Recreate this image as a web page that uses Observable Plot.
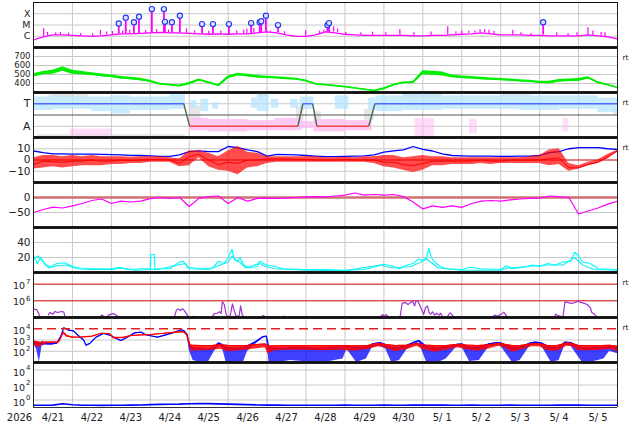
<!DOCTYPE html>
<html><head><meta charset="utf-8">
<script src="https://cdn.jsdelivr.net/npm/d3@7"></script>
<script src="https://cdn.jsdelivr.net/npm/@observablehq/plot@0.6"></script>
<style>
body{margin:0;background:#fff;}
#chart{position:relative;width:634px;height:424px;overflow:hidden;background:#fff;}
#chart svg{position:absolute;left:0;overflow:visible;}
</style></head><body><div id="chart"></div>
<script>
// ---------- time helpers (days since 2026-04-21 00:00) ----------
const DAY = 864e5, T0 = Date.UTC(2026, 3, 21);
const T = t => new Date(T0 + t * DAY);
const STEP = 0.25; // 6-hour samples

// ---------- tick labels ----------
const dayLabels = ["4/21","4/22","4/23","4/24","4/25","4/26","4/27","4/28","4/29","4/30","5/ 1","5/ 2","5/ 3","5/ 4","5/ 5"];
const yearLabel = "2026";

// ---------- panel 1: X-ray flux (W/m2), 6-hourly background ----------
const xrayBg = [4.8e-7,8.9e-7,1.35e-6,1.35e-6,1.2e-6,1.1e-6,9.9e-7,1.1e-6,1.35e-6,1.65e-6,
  1.65e-6,1.8e-6,2.0e-6,2.2e-6,2.0e-6,2.0e-6,1.8e-6,1.65e-6,1.5e-6,1.65e-6,
  1.5e-6,1.65e-6,1.65e-6,2.0e-6,2.5e-6,2.0e-6,1.35e-6,9.9e-7,9.9e-7,1.35e-6,
  2.5e-6,2.0e-6,1.5e-6,1.35e-6,1.2e-6,1.2e-6,1.2e-6,1.2e-6,1.2e-6,1.1e-6,
  1.1e-6,1.2e-6,1.2e-6,1.35e-6,1.5e-6,1.65e-6,2.0e-6,1.65e-6,1.35e-6,1.35e-6,
  1.35e-6,1.2e-6,1.2e-6,1.1e-6,1.1e-6,1.1e-6,1.1e-6,1.35e-6,1.1e-6,8.9e-7,5.9e-7];
// small spikes [day, base, peak]
const xrayMinor = [[0.26,8e-7,4.6e-6],[0.36,1.1e-6,2.2e-6],[0.57,1.3e-6,2.0e-6],[0.69,1.3e-6,2.2e-6],[0.90,1.2e-6,1.9e-6],
  [1.21,1.1e-6,1.8e-6],[1.52,1.0e-6,1.7e-6],[1.72,1.1e-6,3.4e-6],[1.88,1.3e-6,2.4e-6],[2.03,1.4e-6,2.6e-6],
  [2.29,1.6e-6,3e-6],[2.47,1.6e-6,3.5e-6],[2.88,1.8e-6,3.2e-6],[3.16,2e-6,4e-6],[3.47,2e-6,3.5e-6],
  [3.93,1.8e-6,4.6e-6],[4.14,1.7e-6,3e-6],[4.50,1.5e-6,2.8e-6],[4.81,1.6e-6,3e-6],[5.22,1.6e-6,3e-6],
  [5.40,1.7e-6,3.5e-6],[5.48,1.7e-6,4.5e-6],[5.66,1.9e-6,5e-6],[6.09,2.4e-6,3e-6],[6.45,1.5e-6,2.5e-6],
  [6.99,1.0e-6,3.1e-6],[7.35,1.6e-6,3e-6],[7.46,2.2e-6,3.5e-6],[7.71,2.4e-6,6.9e-6],[7.81,2.2e-6,4.5e-6],
  [8.02,1.5e-6,2.2e-6],[8.41,1.2e-6,2e-6],[8.71,1.2e-6,2.3e-6],[9.05,1.2e-6,2e-6],[9.41,1.2e-6,3.7e-6],
  [9.77,1.1e-6,2e-6],[10.21,1.2e-6,2.4e-6],[10.64,1.3e-6,6.9e-6],[10.85,1.5e-6,2.5e-6],[11.0,1.6e-6,3e-6],
  [11.18,1.8e-6,2.8e-6],[11.34,1.9e-6,3e-6],[11.47,2e-6,3.8e-6],[11.59,1.9e-6,4e-6],[11.70,1.7e-6,3.5e-6],
  [11.83,1.5e-6,2.6e-6],[12.31,1.3e-6,3.4e-6],[12.52,1.3e-6,2e-6],[12.78,1.2e-6,1.8e-6],[13.44,1.1e-6,2e-6],
  [13.73,1.1e-6,1.8e-6],[13.96,1.1e-6,2e-6],[14.24,1.2e-6,5.6e-6],[14.37,1.1e-6,3e-6],[14.58,1.0e-6,2.2e-6],
  [14.68,9e-7,2e-6]];
// flares with markers [day, base, peak]
const flares = [[2.19,1.5e-6,1.36e-5],[2.37,1.65e-6,4.4e-5],[2.58,1.7e-6,1.8e-5],[2.71,1.8e-6,5.4e-5],
  [3.04,1.9e-6,2.6e-4],[3.35,2.1e-6,2.6e-4],[3.375,2.1e-6,1.9e-5],[3.555,2.0e-6,1.8e-5],[3.76,2.0e-6,6.6e-5],
  [4.33,1.6e-6,1.2e-5],[4.61,1.5e-6,1.2e-5],[5.02,1.5e-6,1.2e-5],[5.59,1.7e-6,1.48e-5],[5.81,2.0e-6,1.8e-5],
  [5.85,2.0e-6,2.2e-5],[5.97,2.3e-6,6.6e-5],[6.28,2.0e-6,9.8e-6],[7.55,2.2e-6,9.8e-6],[7.59,2.2e-6,1.48e-5],
  [13.09,1.3e-6,1.8e-5]];

// ---------- panel 2: solar wind speed (km/s), 6-hourly ----------
const swSpeed = [490,515,525,560,525,515,505,490,480,465,455,445,425,395,385,375,400,440,410,380,
  470,500,490,475,470,465,455,450,430,395,385,375,365,350,335,320,345,385,410,415,
  520,515,505,480,470,465,455,450,445,440,430,425,415,410,430,435,440,465,410,385,355];
const swNoise = [18,18,22,25,22,18,15,15,14,14,14,14,11,9,8,8,11,11,9,8,
  14,15,14,14,11,11,11,9,9,6,5,5,4,4,4,6,8,8,8,8,
  22,22,22,15,14,14,14,11,11,11,11,11,11,14,14,14,15,11,9,8,6];

// ---------- panel 3: sector (A=1, T=3) ----------
const sectorPts = [[0,3],[3.86,3],[4.01,1],[6.79,1],[6.92,3],[7.17,3],[7.28,1],[8.61,1],[8.77,3],[15,3]];
const blueDots = [[0,0.5,2.4,3.6],[0.5,1.0,2.5,3.7],[1.0,1.5,2.5,3.6],[1.5,2.0,2.3,3.6],[2.0,2.5,2.1,3.7],
  [2.5,3.0,2.4,3.6],[3.0,3.5,2.4,3.6],[3.5,3.9,2.5,3.8],[4.05,4.2,2.6,3.3],[4.3,4.5,2.3,3.4],[4.6,4.75,2.5,3.1],
  [5.6,5.75,2.6,3.5],[5.75,6.05,2.3,3.8],[6.1,6.3,2.6,3.4],[6.6,6.8,2.6,3.4],[6.85,7.2,2.5,3.6],[7.75,8.1,2.5,3.7],
  [8.6,8.8,2.4,3.5],[8.8,9.5,2.3,3.7],[9.5,10.5,2.4,3.8],[10.5,11.5,2.5,3.7],[11.5,12.5,2.5,3.7],
  [12.5,13.5,2.4,3.7],[13.5,14.5,2.5,3.7],[14.5,15,2.2,3.5]];
const pinkDense = [[4.0,4.5,0.6,1.7],[4.5,5.5,0.5,1.6],[5.5,6.2,0.6,1.5],[6.2,6.9,0.6,1.7],[6.9,7.2,0.8,1.4],
  [7.2,8.0,0.5,1.6],[8.0,8.7,0.6,1.5]];
const pinkSparse = [[0.95,2.0,0.15,0.75],[9.8,10.3,0.1,1.7],[11.2,11.4,0.3,1.6],[13.6,13.75,0.5,1.7]];
const grayDots = [[0.4,1.4,3.55,3.85],[4.0,4.3,1.5,2.8],[5.75,6.0,3.6,3.9],[6.75,6.95,1.2,2.7],[7.2,7.4,1.6,2.3],
  [8.5,8.75,1.5,2.5],[9.5,10.5,3.5,3.8],[12.0,12.8,3.6,3.85],[14.9,15,2.0,2.6],[0.1,3.9,0.05,0.25]];

// ---------- panel 4: IMF Bt / Bz (nT), 6-hourly ----------
const bt = [8,6.5,5.5,5.5,5.2,5.2,5.2,5,4.8,4.5, 4.2,4,3.7,3.3,3.2,4.5,7.5,8.2,7.5,7.5,
  12,11,9,7.5,3.5,5,4.8,4.5,4,3.5, 3,3,3.2,3.5,3.7,4.5,7,8.2,9,12,
  9.5,8,5.5,4,3.7,3.5,3.5,3.5,3.3,3.2, 3.5,3.5,4,6.5,7.5,10,11,11,11,10, 9.5];
const bzMid = [-4,-1,-1.5,-2,-1,-1,0,-1,-1,0, -0.5,0,0.5,0.5,0,-3,3,5,0,-4,
  -2,-3,0,0,1,1,1,0.5,0.5,0, 0,0,0.5,0,0,0,-2,-2,-4,-5,
  -3,-1,-1,-1,-1,-1,0,-1,-1,0, 0,0,0,1,2,-7,-7,-4,-2,3, 8];
const bzLo = [-8,-7,-6,-7,-6,-5,-5,-5,-4,-4, -3,-3,-2,-2,-2,-6,-5,2,-6,-9,
  -10,-13,-7,-6,-3,-2,-2,-2,-2,-2, -2,-2,-2,-2,-2,-3,-6,-7,-9,-11,
  -9,-5,-5,-4,-4,-4,-3,-4,-3,-3, -3,-3,-3,-5,-4,-10,-8,-5,-3,1, 7];
const bzHi = [2,4,4,3,4,3,4,3,3,3, 2.5,3,3,3,2,1,8,8,6,3,
  8,12,7,6,3,3,3,3,3,3, 2,2,2.5,2,3,3,4,4,2,3,
  4,3,3,2,2,2,2,2,2,2, 2,3,4,9,10,-3,-5,-2,0,5, 9];

// ---------- panel 5: Dst (nT), 6-hourly ----------
const dst = [-50,-40,-32,-35,-28,-20,-10,-5,-20,-12, -15,-12,-4,0,-3,0,-30,-3,3,5,
  -20,0,-12,-3,-2,-3,-2,0,2,3, 2,5,8,15,8,10,8,10,3,-15,
  -38,-28,-33,-28,-33,-20,-12,-10,-12,-8, -5,-3,-2,5,3,0,-55,-45,-35,-22, -12];

// ---------- panel 6: two cyan traces [day, value] ----------
const cyanA = [[0,22],[0.1,12],[0.18,20],[0.3,10],[0.45,8],[0.6,12],[0.8,13],[1.0,8],[1.2,6],[1.5,5],[2.0,5],[2.2,7],
  [2.4,4],[2.8,5],[3.0,5],[3.01,24],[3.10,24],[3.12,5],[3.5,5],[3.75,14],[3.85,15],[3.95,7],[4.3,5],[4.6,6],
  [4.75,15],[4.9,12],[5.0,20],[5.1,31],[5.15,18],[5.25,15],[5.3,20],[5.4,10],[5.55,6],[5.75,8],[5.8,15],[5.9,12],
  [6.0,10],[6.2,8],[6.4,5],[7,4],[7.5,4],[8.0,3],[8.5,4],[8.8,8],[9.0,11],[9.2,9],[9.4,5],[9.6,10],[9.75,12],
  [9.9,18],[10.0,16],[10.1,20],[10.15,32],[10.22,20],[10.3,14],[10.45,8],[10.6,5],[11.0,4],[11.2,7],[11.5,5],
  [12.0,4],[12.15,9],[12.3,5],[12.6,7],[12.8,10],[13.0,8],[13.2,12],[13.4,10],[13.6,14],[13.8,15],[13.9,27],
  [14.0,22],[14.1,14],[14.3,12],[14.5,5],[15,4]];
const cyanB = [[0,18],[0.12,22],[0.25,14],[0.4,6],[0.6,9],[0.85,10],[1.1,5],[1.5,4],[2.0,4],[2.3,6],[2.6,3],[3.0,4],
  [3.2,4],[3.7,10],[3.9,12],[4.0,5],[4.5,4],[4.8,10],[5.0,14],[5.1,22],[5.2,16],[5.3,14],[5.45,6],[5.8,12],
  [5.95,8],[6.2,5],[7,3],[8,2.5],[8.9,10],[9.2,6],[9.7,8],[9.95,14],[10.1,18],[10.2,14],[10.4,6],[11,3],[12,3],
  [12.2,6],[12.7,8],[13.2,10],[13.6,10],[13.9,20],[14.1,10],[14.4,4],[15,3]];

// ---------- panel 7: purple fluence [day, value], null = gap ----------
const fluence = [[0,3.2e5],[0.08,3e5],[0.12,2e5],[0.16,1.2e5],[0.2,null],
  [0.38,1.4e5],[0.42,2.0e5],[0.5,1.6e5],[0.55,2.3e5],[0.62,2.0e5],[0.72,2.3e5],[0.78,2.1e5],[0.8,1.3e5],[0.85,null],
  [1.72,1.2e5],[1.76,1.4e5],[1.8,1.2e5],[1.85,null],[1.9,1.2e5],[1.95,1.5e5],[2.05,1.7e5],[2.12,1.4e5],[2.18,1.1e5],[2.2,null],
  [3.62,1.1e5],[3.67,2.8e5],[3.72,3.2e5],[3.78,2.6e5],[3.83,3.4e5],[3.88,2.5e5],[3.96,1.3e5],[4.0,null],
  [4.1,1.1e5],[4.12,1.2e5],[4.15,null],
  [4.6,1.2e5],[4.65,1.7e5],[4.72,1.8e5],[4.78,2.2e5],[4.82,1.8e5],[4.85,9.1e5],[4.9,6e5],[4.95,1.5e5],[5.0,1.1e5],
  [5.05,1.2e5],[5.11,6.5e5],[5.15,3e5],[5.2,1.2e5],[5.28,1.2e5],[5.32,5e5],[5.36,1.5e5],[5.4,1.1e5],[5.42,null],
  [5.85,1.1e5],[5.9,1.3e5],[5.95,1.1e5],[6.0,null],[6.4,1.1e5],[6.45,1.2e5],[6.5,null],
  [8.92,1.2e5],[8.97,1.5e5],[9.0,1.2e5],[9.06,1.5e5],[9.1,1.2e5],[9.15,null],
  [9.42,1.2e5],[9.47,7e5],[9.55,8e5],[9.62,6e5],[9.7,8.5e5],[9.74,9.5e5],[9.79,5e5],[9.82,9.5e5],[9.86,1e6],
  [9.9,7e5],[9.97,3e5],[10.02,1.5e5],[10.07,4e5],[10.12,5e5],[10.16,2e5],[10.2,1.6e5],[10.25,2.2e5],[10.3,1.4e5],
  [10.35,1.8e5],[10.42,1.4e5],[10.46,1.8e5],[10.5,1.2e5],[10.55,null],
  [10.64,1.2e5],[10.7,1.9e5],[10.74,1.6e5],[10.78,1.1e5],[10.8,null],
  [11.8,1.1e5],[11.85,1.4e5],[11.9,1.2e5],[12.02,1.6e5],[12.08,2.1e5],[12.14,1.3e5],[12.18,1.1e5],[12.2,null],
  [12.52,1.1e5],[12.6,1.15e5],[12.65,null],
  [13.39,1.2e5],[13.42,1.6e5],[13.47,1.3e5],[13.6,1.1e5],[13.65,8.7e5],[13.72,8e5],[13.8,7e5],[13.88,7.5e5],
  [13.99,9.5e5],[14.05,8e5],[14.15,7e5],[14.22,6e5],[14.3,4e5],[14.34,2e5],[14.4,1.6e5],[14.47,1.1e5],[14.5,null]];

// ---------- panel 8: electron flux bands [day, low, high] ----------
const elecBlue = [[0.0,500,800],[0.08,150,600],[0.15,10,400],[0.22,300,700],[0.3,350,500],[0.45,350,450],[0.6,420,520],
  [0.7,1500,2000],[0.78,11000,12500],[0.9,6500,7500],[1.03,5500,6500],[1.15,2000,2500],[1.29,800,1000],[1.35,280,350],
  [1.45,400,500],[1.6,1500,1700],[1.8,3400,3800],[2.0,2000,2400],[2.1,1300,1500],[2.25,700,900],[2.4,1500,1700],
  [2.6,3800,4300],[2.76,4500,5000],[2.9,2500,2800],[3.19,1500,1800],[3.4,2500,2900],[3.6,4000,4500],[3.78,7000,7800],
  [3.86,6000,7000],[3.95,2000,3000],
  [4.0,120,300],[4.1,15,200],[4.3,10,180],[4.5,12,150],[4.65,100,250],[4.75,300,550],[4.85,200,400],[4.95,10,200],
  [5.2,10,180],[5.4,12,200],[5.5,100,300],[5.7,400,700],[5.9,1500,2000],[5.98,1800,2200],[6.05,10,200],[6.3,10,180],
  [6.6,15,200],[6.9,12,220],[7.2,10,180],[7.6,12,200],[7.95,20,250],[8.05,150,300],[8.3,10,200],[8.55,20,220],
  [8.7,200,450],[8.9,300,600],[9.05,150,400],[9.2,10,200],[9.4,15,200],[9.6,150,350],[9.8,400,700],[9.9,600,900],
  [10.1,10,250],[10.4,10,200],[10.6,20,250],[10.85,200,400],[11.0,250,450],[11.2,12,220],[11.45,15,220],
  [11.7,250,450],[11.9,350,600],[12.0,300,550],[12.3,10,200],[12.5,15,220],[12.75,300,550],[12.9,400,650],
  [13.05,300,550],[13.3,10,200],[13.5,15,220],[13.65,350,650],[13.8,300,600],[14.1,10,200],[14.4,12,200],
  [14.65,20,220],[14.8,100,250],[15,60,200]];
const elecRed = [[0,400,800],[0.1,200,700],[0.2,300,600],[0.3,450,650],[0.5,500,650],[0.65,550,700],[0.77,3500,5000],
  [0.85,1800,2500],[1.0,1400,1800],[1.2,1500,1800],[1.5,1800,2200],[1.75,3500,4000],[1.95,3300,3800],[2.05,1200,1700],
  [2.3,1300,1700],[2.5,2000,2500],[2.8,2400,2900],[3.0,2500,3000],[3.3,3200,3800],[3.6,4000,4800],[3.85,4500,5500],
  [3.93,2500,3500],[4.02,200,400],
  [4.05,100,350],[4.3,110,320],[4.6,120,330],[4.8,150,380],[5.0,90,330],[5.3,110,320],[5.5,130,330],[5.8,180,420],
  [5.95,200,450],[6.02,60,300],[6.2,110,300],[6.5,120,320],[7.0,120,320],[7.5,110,320],[7.9,120,320],[8.2,100,300],
  [8.6,140,330],[8.85,250,500],[9.0,200,420],[9.3,90,320],[9.6,140,350],[9.85,280,500],[10.0,140,360],[10.3,80,320],
  [10.6,120,320],[10.9,200,420],[11.1,140,360],[11.4,100,320],[11.7,160,370],[11.95,280,500],[12.1,200,420],
  [12.3,80,320],[12.5,120,320],[12.8,250,460],[13.0,250,460],[13.2,110,320],[13.45,100,320],[13.7,280,550],
  [13.85,250,460],[14.0,110,320],[14.3,110,320],[14.6,120,320],[14.8,150,340],[15.0,90,280]];

// ---------- panel 9: proton flux, 6-hourly ----------
const proton = [0.2,0.2,0.21,0.32,0.23,0.2,0.2,0.19,0.2,0.2, 0.21,0.22,0.24,0.26,0.27,0.28,0.32,0.34,0.33,0.3,
  0.28,0.26,0.24,0.22,0.21,0.21,0.2,0.2,0.2,0.2, 0.2,0.2,0.21,0.2,0.2,0.2,0.21,0.2,0.2,0.21,
  0.21,0.22,0.21,0.2,0.2,0.21,0.2,0.2,0.2,0.21, 0.2,0.2,0.2,0.2,0.21,0.22,0.21,0.2,0.2,0.2, 0.2];

// ================= drawing =================
const W = 634, ML = 33, MR = 17, PH = 45, PAD = 4;
const INK = "#222", GRID = "#c8c8c8";
const MAG = "#ff00ff", GREEN = "#00ee00", BLUE = "#0000ff", RED = "#ff0000", CYAN = "#00ffff", PURPLE = "#a035d0";
const chart = document.getElementById("chart");
const dayLines = d3.range(1, 15).map(T);
const at = arr => arr.map((v, i) => ({t: T(i * STEP), v}));
const FONT = "DejaVu Sans";

function addPanel(i, y, marks, extra = 0) {
  const svg = Plot.plot({
    width: W, height: PH + 2 * PAD + extra,
    marginLeft: ML, marginRight: MR, marginTop: PAD, marginBottom: PAD + extra,
    x: {type: "utc", domain: [T(0), T(15)], axis: null},
    y: {...y, axis: null},
    marks: [
      Plot.ruleX(dayLines, {stroke: GRID, strokeWidth: 1}),
      ...marks,
      Plot.ruleX([T(0), T(15)], {stroke: INK, strokeWidth: 1}),
      Plot.ruleY([y.domain[1]], {stroke: "#111", strokeWidth: i === 0 ? 1 : 2.6}),
      Plot.ruleY([y.domain[0]], {stroke: i === 8 ? "#333" : "#111", strokeWidth: i === 8 ? 1 : 2.6})
    ]
  });
  svg.style.position = "absolute";
  svg.style.top = (1.7 + 45 * i - PAD) + "px";
  svg.style.left = "0px";
  svg.style.background = "transparent";
  svg.style.overflow = "visible";
  svg.style.fontFamily = FONT;
  chart.appendChild(svg);
}
const lab = (vals, texts, fs = 10.5) => Plot.text(vals, {x: () => T(0), y: d => d, text: (d, i) => texts[i],
  dx: -3, textAnchor: "end", lineAnchor: "middle", fontSize: fs, fill: INK, fontFamily: FONT});
const logLab = (vals, dyB, dyE) => [
  Plot.text(vals, {x: () => T(0), y: d => d, text: () => "10", dx: -8.5, dy: dyB, textAnchor: "end",
    lineAnchor: "middle", fontSize: 9.5, fill: INK, fontFamily: FONT}),
  Plot.text(vals, {x: () => T(0), y: d => d, text: d => String(Math.round(Math.log10(d))), dx: -3, dy: dyE,
    textAnchor: "end", lineAnchor: "middle", fontSize: 7, fill: INK, fontFamily: FONT})
];
const rt = () => Plot.text(["rt"], {x: () => T(15), frameAnchor: "top", dx: 5, dy: 10, textAnchor: "start",
  lineAnchor: "middle", fontSize: 7.5, fill: INK, fontFamily: FONT});
const rectOpts = (fill, op) => ({x1: d => T(d[0]), x2: d => T(d[1]), y1: d => d[2], y2: d => d[3], fill, fillOpacity: op, clip: true});

// 1. X-ray
addPanel(0, {type: "log", domain: [1e-7, 1e-3]}, [
  Plot.ruleY([1e-4, 1e-5, 1e-6], {stroke: GRID}),
  Plot.line(at(xrayBg), {x: "t", y: "v", stroke: MAG, strokeWidth: 1.3, clip: true}),
  Plot.ruleX(xrayMinor, {x: d => T(d[0]), y1: d => d[1], y2: d => d[2], stroke: MAG, strokeWidth: 1.2}),
  Plot.ruleX(flares, {x: d => T(d[0]), y1: d => d[1], y2: d => d[2], stroke: MAG, strokeWidth: 1.8}),
  Plot.dot(flares, {x: d => T(d[0]), y: d => d[2], r: 2.6, fill: "#dfe4ff", stroke: "#2b3cf0", strokeWidth: 1.2}),
  lab([1e-4, 1e-5, 1e-6], ["X", "M", "C"], 9.5)
]);

// 2. Solar wind speed
const sw = swSpeed.map((v, i) => ({t: T(i * STEP), v, n: swNoise[i]}));
addPanel(1, {type: "linear", domain: [300, 800]}, [
  Plot.ruleY([400, 500, 600, 700], {stroke: GRID}),
  Plot.areaY(sw, {x: "t", y1: d => d.v - d.n, y2: d => d.v + d.n, fill: GREEN, clip: true}),
  Plot.line(sw, {x: "t", y: "v", stroke: GREEN, strokeWidth: 1.5, clip: true}),
  lab([700, 600, 500, 400], ["700", "600", "500", "400"], 8.5),
  rt()
]);

// 3. Sector
const segs = d3.pairs(sectorPts);
const segOpts = s => ({x1: d => T(d[0][0]), y1: d => d[0][1], x2: d => T(d[1][0]), y2: d => d[1][1], stroke: s, strokeWidth: 1.4});
addPanel(2, {type: "linear", domain: [0, 4]}, [
  Plot.ruleY([1, 3], {stroke: GRID}),
  Plot.rect(grayDots, rectOpts("#d4d4d4", 0.55)),
  Plot.rect(blueDots, rectOpts("#b6e4ff", 0.75)),
  Plot.rect(pinkDense, rectOpts("#ffbcf2", 0.8)),
  Plot.rect(pinkSparse, rectOpts("#ffbcf2", 0.5)),
  Plot.ruleY([2], {stroke: "#555", strokeWidth: 1}),
  Plot.link(segs.filter(([a, b]) => a[1] !== b[1]), segOpts("#4d6b4d")),
  Plot.link(segs.filter(([a, b]) => a[1] === 3 && b[1] === 3), segOpts("#4f6bff")),
  Plot.link(segs.filter(([a, b]) => a[1] === 1 && b[1] === 1), segOpts("#e84848")),
  lab([3, 1], ["T", "A"], 11),
  rt()
]);

// 4. Bt / Bz
const bzData = bzMid.map((v, i) => ({t: T(i * STEP), v, lo: bzLo[i], hi: bzHi[i]}));
addPanel(3, {type: "linear", domain: [-20, 20]}, [
  Plot.ruleY([-10, 10], {stroke: GRID}),
  Plot.ruleY([0], {stroke: "#c00000", strokeWidth: 1}),
  Plot.line(at(bt), {x: "t", y: "v", stroke: BLUE, strokeWidth: 1.3, clip: true}),
  Plot.areaY(bzData, {x: "t", y1: "lo", y2: "hi", fill: RED, fillOpacity: 0.7, clip: true}),
  Plot.line(bzData, {x: "t", y: "v", stroke: RED, strokeWidth: 1, clip: true}),
  lab([10, 0, -10], ["10", "0", "\u221210"]),
  rt()
]);

// 5. Dst
addPanel(4, {type: "linear", domain: [-100, 50]}, [
  Plot.ruleY([-50], {stroke: GRID}),
  Plot.ruleY([0], {stroke: "#cf6f72", strokeWidth: 2.5}),
  Plot.line(at(dst), {x: "t", y: "v", stroke: MAG, strokeWidth: 1.2, clip: true}),
  lab([0, -50], ["0", "\u221250"])
]);

// 6. cyan traces
addPanel(5, {type: "linear", domain: [0, 60]}, [
  Plot.ruleY([20, 40], {stroke: GRID}),
  Plot.line(cyanB, {x: d => T(d[0]), y: d => d[1], stroke: "#22e8e8", strokeWidth: 1.2, clip: true}),
  Plot.line(cyanA, {x: d => T(d[0]), y: d => d[1], stroke: CYAN, strokeWidth: 1.2, clip: true}),
  lab([40, 20], ["40", "20"])
]);

// 7. fluence
addPanel(6, {type: "log", domain: [1e5, 5e7]}, [
  Plot.ruleY([1e6, 1e7], {stroke: "#cc0000", strokeWidth: 1}),
  Plot.line(fluence, {x: d => T(d[0]), y: d => d[1], stroke: PURPLE, strokeWidth: 1.2, clip: true}),
  ...logLab([1e7, 1e6], 1.5, -2.5),
  rt()
]);

// 8. electron flux
addPanel(7, {type: "log", domain: [10, 1e5]}, [
  Plot.ruleY([100, 1000], {stroke: GRID}),
  Plot.areaY(elecBlue, {x: d => T(d[0]), y1: d => d[1], y2: d => d[2], fill: BLUE, fillOpacity: 0.75, clip: true}),
  Plot.line(elecBlue, {x: d => T(d[0]), y: d => d[2], stroke: BLUE, strokeWidth: 1.2, clip: true}),
  Plot.areaY(elecRed, {x: d => T(d[0]), y1: d => d[1], y2: d => d[2], fill: RED, fillOpacity: 0.85, clip: true}),
  Plot.line(elecRed, {x: d => T(d[0]), y: d => d[2], stroke: RED, strokeWidth: 1.2, clip: true}),
  Plot.ruleY([1e4], {stroke: "#e02020", strokeWidth: 1.3, strokeDasharray: "9,5"}),
  ...logLab([1e4, 1e3, 1e2], 2, -2.5),
  rt()
]);

// 9. proton flux + time axis
addPanel(8, {type: "log", domain: [0.1, 1e5]}, [
  Plot.ruleY([1, 100, 1e4], {stroke: GRID}),
  Plot.line(at(proton), {x: "t", y: "v", stroke: BLUE, strokeWidth: 1.6, clip: true}),
  ...logLab([1e4, 1e2, 1], 2.5, -2),
  Plot.text(dayLabels, {x: (d, i) => T(i + 0.5), text: d => d, frameAnchor: "bottom", dy: 9.8, textAnchor: "middle",
    lineAnchor: "middle", fontSize: 10, fill: INK, fontFamily: FONT}),
  Plot.text([yearLabel], {x: () => T(0), text: d => d, frameAnchor: "bottom", dx: -14, dy: 9.8, textAnchor: "middle",
    lineAnchor: "middle", fontSize: 10, fill: INK, fontFamily: FONT})
], 22);
</script>
</body></html>
